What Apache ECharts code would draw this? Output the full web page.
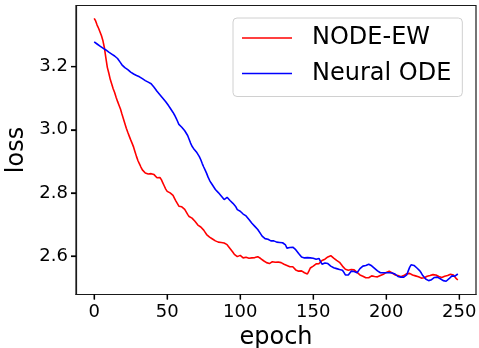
<!DOCTYPE html>
<html><head><meta charset="utf-8">
<script src="https://cdn.jsdelivr.net/npm/echarts@6/dist/echarts.min.js"></script>
<style>html,body{margin:0;padding:0;background:#fff}#c{width:479px;height:348px}</style>
</head><body><div id="c"></div>
<script>
const seriesNames = ['NODE-EW', 'Neural ODE'];
const xTicks = [0, 50, 100, 150, 200, 250];
const yTicks = [2.6, 2.8, 3.0, 3.2];
const nodeEW = [
3.353,3.345,3.332,3.322,3.310,3.298,3.282,3.260,3.228,3.198,
3.180,3.160,3.145,3.130,3.118,3.103,3.090,3.078,3.066,3.050,
3.035,3.020,3.005,2.992,2.980,2.968,2.957,2.945,2.930,2.915,
2.902,2.892,2.882,2.873,2.868,2.863,2.866,2.860,2.864,2.861,
2.866,2.858,2.855,2.848,2.852,2.849,2.842,2.832,2.822,2.812,
2.805,2.802,2.800,2.798,2.792,2.783,2.774,2.766,2.758,2.755,
2.756,2.754,2.748,2.740,2.732,2.725,2.722,2.720,2.715,2.710,
2.704,2.698,2.694,2.692,2.688,2.682,2.675,2.668,2.663,2.660,
2.659,2.654,2.650,2.648,2.646,2.644,2.645,2.643,2.642,2.641,
2.640,2.636,2.630,2.624,2.618,2.612,2.605,2.600,2.598,2.599,
2.602,2.597,2.594,2.593,2.596,2.591,2.593,2.596,2.594,2.597,
2.595,2.596,2.598,2.596,2.592,2.588,2.585,2.582,2.579,2.577,
2.576,2.579,2.582,2.583,2.580,2.578,2.581,2.582,2.579,2.576,
2.574,2.571,2.570,2.568,2.566,2.565,2.566,2.560,2.556,2.553,
2.552,2.550,2.553,2.551,2.547,2.544,2.543,2.552,2.562,2.566,
2.568,2.572,2.575,2.577,2.576,2.582,2.586,2.588,2.590,2.594,
2.597,2.600,2.601,2.598,2.593,2.590,2.586,2.583,2.580,2.574,
2.568,2.562,2.558,2.556,2.555,2.556,2.557,2.555,2.556,2.552,
2.548,2.544,2.540,2.537,2.536,2.533,2.531,2.529,2.531,2.534,
2.537,2.536,2.535,2.537,2.534,2.535,2.538,2.540,2.542,2.545,
2.548,2.550,2.552,2.549,2.546,2.543,2.540,2.542,2.538,2.535,
2.534,2.535,2.538,2.541,2.544,2.545,2.545,2.542,2.540,2.538,
2.537,2.536,2.534,2.531,2.530,2.529,2.531,2.534,2.536,2.537,
2.538,2.539,2.541,2.540,2.540,2.538,2.535,2.533,2.532,2.534,
2.536,2.534,2.538,2.540,2.542,2.543,2.540,2.534,2.528,2.524
];
const neuralODE = [
3.279,3.276,3.272,3.269,3.265,3.262,3.259,3.256,3.253,3.249,
3.246,3.243,3.240,3.237,3.234,3.231,3.226,3.220,3.213,3.206,
3.200,3.197,3.194,3.191,3.187,3.183,3.180,3.177,3.175,3.172,
3.170,3.168,3.165,3.162,3.159,3.156,3.153,3.151,3.149,3.146,
3.141,3.135,3.129,3.122,3.116,3.111,3.106,3.100,3.094,3.089,
3.083,3.076,3.069,3.062,3.055,3.047,3.038,3.028,3.017,3.012,
3.008,3.002,2.997,2.992,2.982,2.970,2.958,2.948,2.941,2.936,
2.930,2.924,2.915,2.905,2.893,2.882,2.872,2.862,2.850,2.840,
2.832,2.825,2.818,2.811,2.806,2.801,2.796,2.790,2.784,2.779,
2.776,2.786,2.783,2.776,2.770,2.767,2.763,2.756,2.747,2.741,
2.742,2.738,2.733,2.730,2.727,2.723,2.716,2.710,2.704,2.698,
2.694,2.690,2.684,2.678,2.670,2.663,2.659,2.655,2.652,2.653,
2.651,2.648,2.650,2.648,2.646,2.644,2.645,2.643,2.640,2.642,
2.646,2.635,2.625,2.624,2.627,2.629,2.628,2.626,2.620,2.614,
2.608,2.602,2.597,2.595,2.594,2.594,2.595,2.593,2.594,2.592,
2.593,2.591,2.590,2.588,2.592,2.582,2.574,2.576,2.578,2.577,
2.576,2.572,2.568,2.566,2.563,2.561,2.560,2.559,2.557,2.556,
2.555,2.548,2.540,2.534,2.540,2.546,2.552,2.553,2.551,2.548,
2.547,2.552,2.560,2.566,2.568,2.569,2.570,2.571,2.574,2.573,
2.569,2.565,2.561,2.557,2.553,2.549,2.547,2.546,2.547,2.548,
2.547,2.548,2.547,2.545,2.546,2.544,2.543,2.539,2.535,2.532,
2.533,2.534,2.533,2.534,2.540,2.552,2.564,2.572,2.574,2.570,
2.566,2.562,2.557,2.553,2.546,2.538,2.532,2.527,2.524,2.522,
2.522,2.525,2.529,2.532,2.534,2.533,2.531,2.528,2.525,2.522,
2.520,2.520,2.523,2.528,2.534,2.537,2.533,2.536,2.540,2.543
];
const X_MIN = -12.45, X_MAX = 261.45, Y_MIN = 2.478, Y_MAX = 3.394;
const toPairs = arr => arr.map((v, i) => [i, v]);
const font = 'DejaVu Sans';
const TICK_LEN = 5;
const chart = echarts.init(document.getElementById('c'), null, {renderer: 'canvas'});
chart.setOption({
  animation: false,
  backgroundColor: '#fff',
  grid: {left: 76, right: 3, top: 5.5, bottom: 53.5, outerBoundsMode: 'none', containLabel: false,
         show: true, borderColor: '#1a1a1a', borderWidth: 1.2, backgroundColor: 'transparent'},
  legend: {
    orient: 'vertical', left: 233, top: 18,
    data: seriesNames.map(n => ({name: n, icon: 'rect'})),
    itemWidth: 50, itemHeight: 1.6, itemGap: 11.5,
    padding: [8, 11, 11, 9],
    backgroundColor: 'rgba(255,255,255,0.8)',
    borderColor: '#d0d0d0', borderWidth: 1, borderRadius: 4,
    textStyle: {fontFamily: font, fontSize: 24, color: '#000', padding: [0, 0, 0, 15]}
  },
  xAxis: {
    type: 'value', min: X_MIN, max: X_MAX,
    name: 'epoch', nameLocation: 'middle', nameGap: 28.5,
    nameTextStyle: {fontFamily: font, fontSize: 24, color: '#000'},
    axisLine: {show: true, onZero: false, lineStyle: {color: '#1a1a1a', width: 1.2}},
    axisTick: {show: true, length: TICK_LEN, inside: false, customValues: xTicks, lineStyle: {color: '#000', width: 1.2}},
    axisLabel: {customValues: xTicks, margin: 8.5, fontFamily: font, fontSize: 18, color: '#000'},
    splitLine: {show: false}
  },
  yAxis: {
    type: 'value', min: Y_MIN, max: Y_MAX,
    name: 'loss', nameLocation: 'middle', nameGap: 42, nameRotate: 90,
    nameTextStyle: {fontFamily: font, fontSize: 24, color: '#000'},
    axisLine: {show: true, onZero: false, lineStyle: {color: '#1a1a1a', width: 1.2}},
    axisTick: {show: true, length: TICK_LEN, inside: false, customValues: yTicks, lineStyle: {color: '#000', width: 1.2}},
    axisLabel: {customValues: yTicks, margin: 8, fontFamily: font, fontSize: 18, color: '#000', formatter: v => v.toFixed(1)},
    splitLine: {show: false}
  },
  series: [
    {name: seriesNames[0], type: 'line', data: toPairs(nodeEW), symbol: 'none', lineStyle: {color: '#ff0000', width: 1.6}, itemStyle: {color: '#ff0000'}, z: 2},
    {name: seriesNames[1], type: 'line', data: toPairs(neuralODE), symbol: 'none', lineStyle: {color: '#0000ff', width: 1.6}, itemStyle: {color: '#0000ff'}, z: 3}
  ]
});
// Outward tick marks positioned through the axes' own scales (fallback in case native ticks are suppressed)
try {
  const xLeft = chart.convertToPixel({xAxisIndex: 0}, X_MIN);
  const yBottom = chart.convertToPixel({yAxisIndex: 0}, Y_MIN);
  const els = [];
  xTicks.forEach(v => {
    const px = chart.convertToPixel({xAxisIndex: 0}, v);
    els.push({type: 'line', z: 100, silent: true, shape: {x1: px, y1: yBottom, x2: px, y2: yBottom + TICK_LEN}, style: {stroke: '#000', lineWidth: 1.2}});
  });
  yTicks.forEach(v => {
    const py = chart.convertToPixel({yAxisIndex: 0}, v);
    els.push({type: 'line', z: 100, silent: true, shape: {x1: xLeft - TICK_LEN, y1: py, x2: xLeft, y2: py}, style: {stroke: '#000', lineWidth: 1.2}});
  });
  chart.setOption({graphic: {elements: els}});
} catch (e) { console.error(e); }
</script></body></html>
